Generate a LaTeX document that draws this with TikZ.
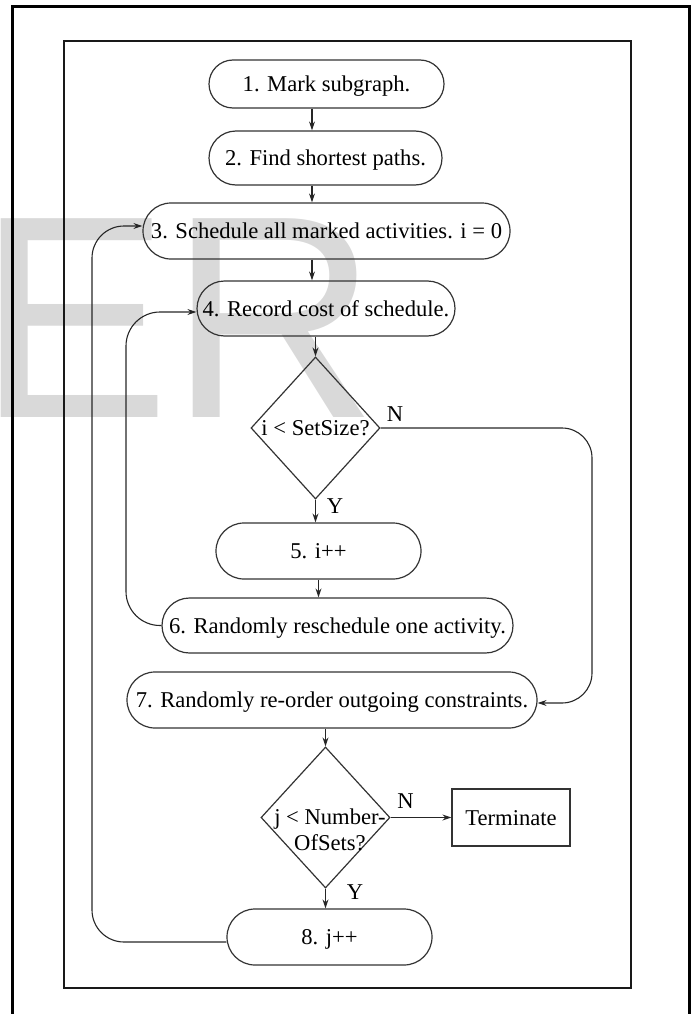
\documentclass[tikz,border=0pt]{standalone}
\usepackage{fontspec}
\setmainfont{Liberation Serif}
\newfontfamily\wmfont{Liberation Sans}
\usetikzlibrary{shapes.misc,shapes.geometric,arrows.meta}
\begin{document}
\begin{tikzpicture}[x=1pt,y=-1pt,
  every node/.style={font=\fontsize{22.6}{26}\selectfont},
  proc/.style={rounded rectangle, draw=black!80, line width=1.2pt, inner sep=0pt, text height=15pt, text depth=0pt},
  dec/.style={diamond, draw=black!80, line width=1.2pt, inner sep=0pt},
  termbox/.style={rectangle, draw=black!80, line width=1.2pt, inner sep=0pt, text height=15pt, text depth=0pt},
  arr/.style={draw=black!85, line width=1.1pt, -{Stealth[length=9pt,width=6pt]}},
  lbl/.style={inner sep=0pt}
]
\useasboundingbox (0,0) rectangle (694,1014);
% watermark
\node[anchor=base west, inner sep=0pt, text=black!15, font=\wmfont\fontsize{289}{289}\selectfont] (wm) at (-23,417) {ER};
% frames
\draw[line width=3pt] (12.5,1014) -- (12.5,7) -- (689.5,7) -- (689.5,1014);
\draw[line width=2pt, black!90] (64,41) rectangle (631,988);
% nodes
\node[proc, minimum width=235pt, minimum height=48pt] (B1) at (326.5,84) {1. Mark subgraph.};
\node[proc, minimum width=233pt, minimum height=54pt] (B2) at (325.5,158) {2. Find shortest paths.};
\node[proc, minimum width=367pt, minimum height=56pt] (B3) at (326.5,231) {3. Schedule all marked activities. i = 0};
\node[proc, minimum width=258pt, minimum height=55pt] (B4) at (326,308.5) {4. Record cost of schedule.};
\node[dec, minimum width=129pt, minimum height=142pt, text height=15pt, text depth=0pt] (D1) at (315.5,428) {i < SetSize?};
\node[proc, minimum width=205pt, minimum height=56pt] (B5) at (318.5,551) {5. i++};
\node[proc, minimum width=351pt, minimum height=55pt] (B6) at (337.5,625.5) {6. Randomly reschedule one activity.};
\node[proc, minimum width=410pt, minimum height=56pt] (B7) at (332,700) {7. Randomly re-order outgoing constraints.};
\node[dec, minimum width=129pt, minimum height=141pt] (D2) at (325.5,817.5) {};
\node[align=center, inner sep=0pt] (D2t) at (330,830) {j < Number-\\OfSets?};
\node[termbox, minimum width=118pt, minimum height=57pt] (T) at (511,817.5) {Terminate};
\node[proc, minimum width=205pt, minimum height=56pt] (B8) at (329.5,937) {8. j++};
% labels
\node[lbl] (N1) at (395,414) {N};
\node[lbl] (Y1) at (335,506) {Y};
\node[lbl] (N2) at (405.5,801) {N};
\node[lbl] (Y2) at (355,892) {Y};
% helper coordinates
\coordinate (s1) at (312,0);
\coordinate (R1) at (592,428);
\coordinate (R2) at (592,703);
\coordinate (L1) at (126,312);
\coordinate (L2) at (0,942);
\coordinate (L3) at (92,226);
% connectors
\draw[arr] (B1.south -| s1) -- (B2.north -| s1);
\draw[arr] (B2.south -| s1) -- (B3.north -| s1);
\draw[arr] (B3.south -| s1) -- (B4.north -| s1);
\draw[arr] (B4.south -| D1.north) -- (D1.north);
\draw[arr] (D1.south) -- (B5.north -| D1.south);
\draw[arr] (B5.south) -- (B6.north -| B5.south);
\draw[arr] (B7.south -| D2.north) -- (D2.north);
\draw[arr] (D2.south) -- (B8.north -| D2.south);
\draw[arr] (D2.east) -- (T.west);
\draw[arr, rounded corners=30pt] (D1.east) -- (R1) -- (R2) -- (B7.east |- R2);
\draw[arr, rounded corners=34pt] (B6.west) -| (L1) -- (B4.west |- L1);
\draw[arr, rounded corners=32pt] (B8.west |- L2) -| (L3) -- (B3.west |- L3);
\end{tikzpicture}
\end{document}
